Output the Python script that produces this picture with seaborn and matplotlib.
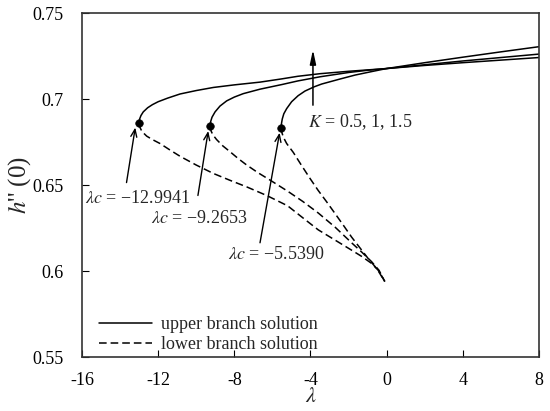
import numpy as np
import pandas as pd
import matplotlib
matplotlib.use("Agg")
import matplotlib.pyplot as plt
import seaborn as sns
from matplotlib.lines import Line2D

# ---------------- data ----------------
K_values = [0.5, 1, 1.5]
lambda_c = [-12.9941, -9.2653, -5.5390]
h_c = [0.686, 0.6843, 0.6833]

# upper branch solutions
upper_A_lam = [-12.9941, -12.97, -12.90, -12.78, -12.55, -12.30, -12.0, -11.5, -10.85, -10.0,
               -9.1, -8.0, -6.65, -5.5, -4.66, -3.5, -2.0, -1.0, 0.0, 2.0, 4.0, 6.0, 8.0]
upper_A_h = [0.686, 0.6885, 0.6905, 0.6926, 0.6950, 0.6968, 0.6985, 0.7006, 0.7030, 0.7050,
             0.7068, 0.7083, 0.7099, 0.7118, 0.7133, 0.7148, 0.7162, 0.7170, 0.7178, 0.7196,
             0.7212, 0.7227, 0.7242]
upper_B_lam = [-9.2653, -9.24, -9.17, -9.01, -8.75, -8.40, -8.0, -7.53, -6.65, -5.5, -4.66,
               -3.5, -2.0, -1.0, 0.0, 2.0, 4.0, 6.0, 8.0]
upper_B_h = [0.6843, 0.6870, 0.6895, 0.6926, 0.6960, 0.6990, 0.7012, 0.7032, 0.7058, 0.7085,
             0.7106, 0.7130, 0.7155, 0.7168, 0.7178, 0.7200, 0.7222, 0.7242, 0.7262]
upper_C_lam = [-5.5390, -5.52, -5.48, -5.40, -5.25, -4.99, -4.65, -4.29, -3.8, -3.41, -2.45,
               -1.66, -0.8, 0.0, 2.0, 4.0, 6.0, 8.0]
upper_C_h = [0.6833, 0.6860, 0.6885, 0.6915, 0.6945, 0.6985, 0.7020, 0.7047, 0.7072, 0.7088,
             0.7117, 0.7140, 0.7160, 0.7178, 0.7212, 0.7244, 0.7275, 0.7305]

# lower branch solutions
lower_A_lam = [-12.9941, -12.95, -12.85, -12.6, -12.3, -11.9, -11.4, -10.85, -10.0, -9.1, -8.2,
               -7.35, -6.3, -5.2, -4.4, -3.59, -2.7, -1.84, -1.3, -0.79, -0.4, -0.1]
lower_A_h = [0.686, 0.6835, 0.6812, 0.6785, 0.6765, 0.6742, 0.6706, 0.6668, 0.6617, 0.6568,
             0.6527, 0.6490, 0.6440, 0.6380, 0.6310, 0.6240, 0.6180, 0.6122, 0.6085, 0.6045,
             0.6000, 0.5940]
lower_B_lam = [-9.2653, -9.22, -9.12, -8.93, -8.6, -8.23, -7.8, -7.35, -6.75, -6.13, -5.2, -4.4,
               -3.59, -2.7, -1.84, -1.3, -0.79, -0.4, -0.1]
lower_B_h = [0.6843, 0.6815, 0.6792, 0.6765, 0.6728, 0.6695, 0.6655, 0.6617, 0.6572, 0.6530,
             0.6465, 0.6405, 0.6338, 0.6255, 0.6165, 0.6110, 0.6055, 0.6005, 0.5940]
lower_C_lam = [-5.5390, -5.50, -5.42, -5.25, -4.90, -4.5, -4.03, -3.6, -3.15, -2.71, -2.28,
               -1.84, -1.40, -0.96, -0.52, -0.1]
lower_C_h = [0.6833, 0.6805, 0.6778, 0.6742, 0.6690, 0.6620, 0.6540, 0.6470, 0.6403, 0.6335,
             0.6268, 0.6198, 0.6135, 0.6072, 0.6015, 0.5940]

x_ticks = [-16, -12, -8, -4, 0, 4, 8]
y_ticks = [0.55, 0.6, 0.65, 0.7, 0.75]
y_tick_labels = ["0.55", "0.6", "0.65", "0.7", "0.75"]

# ---------------- style ----------------
sns.set_theme(style="ticks")
plt.rcParams["font.family"] = ["Liberation Serif", "DejaVu Serif"]
plt.rcParams["mathtext.fontset"] = "stix"
plt.rcParams["axes.unicode_minus"] = False

fig = plt.figure(figsize=(5.5, 4.11), dpi=100)
ax = fig.add_axes([0.149, 0.131, 0.831, 0.837])

uppers = [(upper_A_lam, upper_A_h), (upper_B_lam, upper_B_h), (upper_C_lam, upper_C_h)]
lowers = [(lower_A_lam, lower_A_h), (lower_B_lam, lower_B_h), (lower_C_lam, lower_C_h)]

dash = (0, (5, 2.6))
for lam, h in uppers:
    sns.lineplot(x=lam, y=h, ax=ax, color="black", lw=1.1, sort=False,
                 estimator=None, legend=False)
for lam, h in lowers:
    sns.lineplot(x=lam, y=h, ax=ax, color="black", lw=1.1, sort=False,
                 estimator=None, legend=False, linestyle=dash)

sns.scatterplot(x=lambda_c, y=h_c, ax=ax, color="black", s=30, edgecolor="black",
                zorder=5, legend=False)

ax.set_xlim(-16, 8)
ax.set_ylim(0.55, 0.75)
ax.set_xticks(x_ticks)
ax.set_xticklabels([str(t) for t in x_ticks])
ax.set_yticks(y_ticks)
ax.set_yticklabels(y_tick_labels)
ax.tick_params(direction="in", length=5, width=0.8, labelsize=13, colors="black",
               top=False, right=False)
ax.tick_params(axis="x", pad=11)
ax.tick_params(axis="y", pad=13)
for sp in ax.spines.values():
    sp.set_visible(True)
    sp.set_color("#333333")
    sp.set_linewidth(1.2)

ax.set_xlabel(r"$\lambda$", fontsize=16, labelpad=-1)
ax.set_ylabel(r"$h$'' (0)", fontsize=18, labelpad=0)

# annotations
ax.annotate("", xy=(-3.87, 0.7287), xytext=(-3.87, 0.6965),
            arrowprops=dict(arrowstyle="-|>,head_length=0.7,head_width=0.15",
                            color="black", lw=1.1, shrinkA=0, shrinkB=0))
ax.text(-4.15, 0.6866, r"$K$ = 0.5, 1, 1.5", fontsize=13, va="center", ha="left")

arrow_kw = dict(arrowstyle="->,head_length=0.45,head_width=0.18", color="black", lw=1.0,
                shrinkA=0, shrinkB=0)
ax.annotate("", xy=(-13.2, 0.6835), xytext=(-13.66, 0.6515), arrowprops=arrow_kw)
ax.text(-15.85, 0.6425, r"$\lambda c$ = −12.9941", fontsize=13, va="center", ha="left")

ax.annotate("", xy=(-9.37, 0.6815), xytext=(-9.91, 0.6440), arrowprops=arrow_kw)
ax.text(-12.4, 0.6305, r"$\lambda c$ = −9.2653", fontsize=13, va="center", ha="left")

ax.annotate("", xy=(-5.62, 0.6805), xytext=(-6.65, 0.6165), arrowprops=arrow_kw)
ax.text(-8.35, 0.6095, r"$\lambda c$ = −5.5390", fontsize=13, va="center", ha="left")

handles = [Line2D([], [], color="black", lw=1.1),
           Line2D([], [], color="black", lw=1.1, linestyle=dash)]
ax.legend(handles, ["upper branch solution", "lower branch solution"],
          loc="lower left", frameon=False, fontsize=13, handlelength=2.9,
          handletextpad=0.55, labelspacing=0.15, borderaxespad=0.3,
          bbox_to_anchor=(0.01, -0.025))

fig.savefig("out.png", dpi=100)
